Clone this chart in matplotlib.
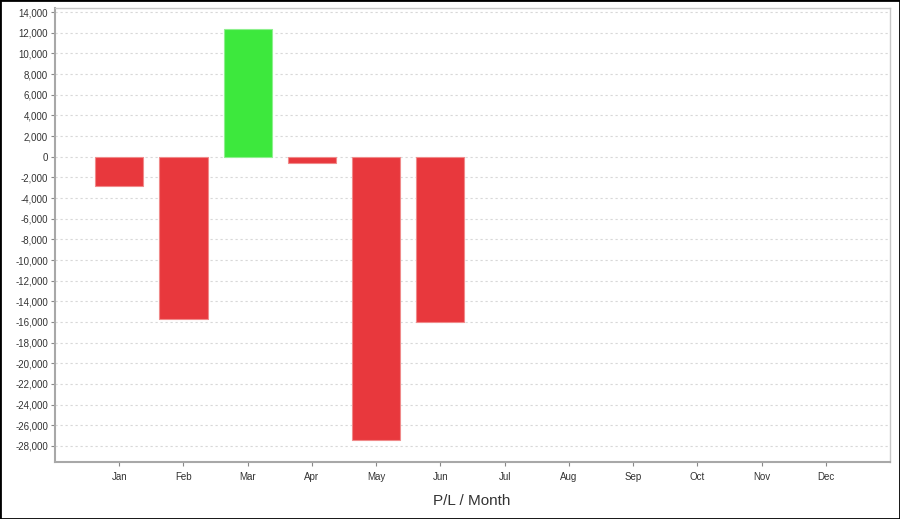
import matplotlib
matplotlib.use("Agg")
import matplotlib.pyplot as plt
from matplotlib.patches import Rectangle

months = ["Jan", "Feb", "Mar", "Apr", "May", "Jun", "Jul", "Aug", "Sep", "Oct", "Nov", "Dec"]
pl_values = [-2850, -15700, 12400, -650, -27450, -16000]
y_ticks = list(range(-28000, 14001, 2000))

plt.rcParams['font.family'] = ['Liberation Sans', 'DejaVu Sans']

fig = plt.figure(figsize=(9, 5.19), dpi=100)
ax = fig.add_axes([55/900, 1-462/519, 835/900, 454/519])

xs = list(range(len(pl_values)))
colors = ['#3de83d' if v >= 0 else '#e8383d' for v in pl_values]
edges = ['#8ef08e' if v >= 0 else '#f08a8a' for v in pl_values]
ax.bar(xs, pl_values, width=0.75, color=colors, edgecolor=edges, linewidth=0.8, zorder=3)

ax.set_xlim(-1, 12)
ax.set_ylim(-29550, 14390)
ax.set_xticks(range(len(months)))
ax.set_xticklabels(months)
ax.set_yticks(y_ticks)
ax.set_yticklabels([f"{t:,}" for t in y_ticks])
ax.tick_params(axis='both', labelsize=7, length=3, width=0.8)
ax.tick_params(axis='x', colors='#888888', labelcolor='#333333', pad=4)
ax.tick_params(axis='y', colors='#888888', labelcolor='#333333', pad=2)
ax.grid(axis='y', color='#d8d8d8', linestyle=(0, (2, 2.5)), linewidth=0.8, zorder=0)
for side in ['left', 'bottom']:
    ax.spines[side].set_color('#a8a8a8')
    ax.spines[side].set_linewidth(1.5)
for side in ['top', 'right']:
    ax.spines[side].set_color('#c8c8c8')
    ax.spines[side].set_linewidth(1.0)

fig.text(472/900, 1-501/519, "P/L / Month", ha='center', va='center', fontsize=11, color='#333333')

fig.patches.append(Rectangle((0, 0), 1, 1, transform=fig.transFigure, fill=False,
                             edgecolor='black', linewidth=2))

fig.savefig("out.png", dpi=100)
